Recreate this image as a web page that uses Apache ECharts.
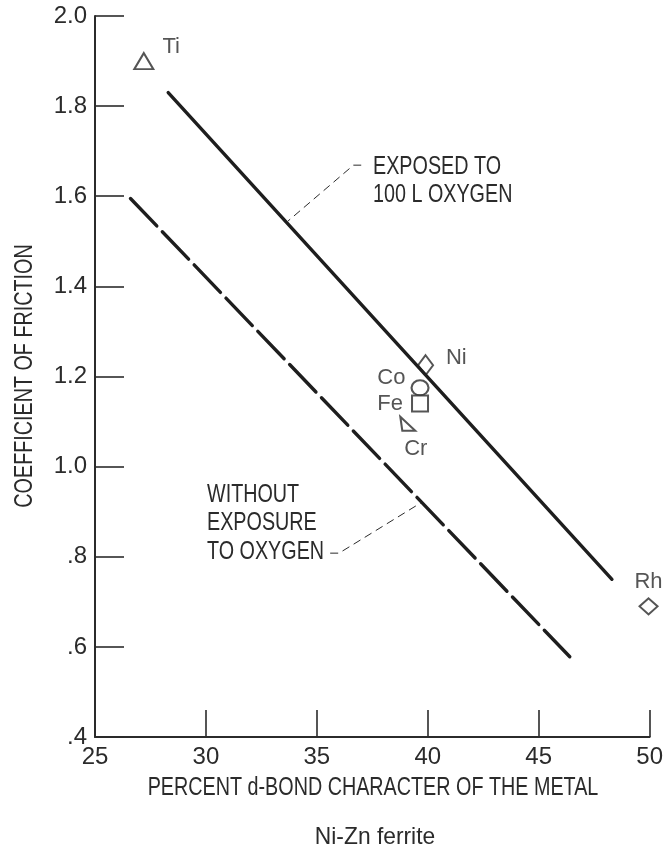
<!DOCTYPE html>
<html>
<head>
<meta charset="utf-8">
<script src="https://cdn.jsdelivr.net/npm/echarts@6/dist/echarts.min.js"></script>
<style>
  html, body { margin: 0; padding: 0; background: #fff; }
  #chart { width: 666px; height: 850px; }
</style>
</head>
<body>
<div id="chart"></div>
<script>
// Coefficient of friction vs. percent d-bond character, Ni-Zn ferrite
const metals   = ['Ti', 'Ni', 'Co', 'Fe', 'Cr', 'Rh'];
const dBond    = [27.2, 39.9, 39.65, 39.65, 39.1, 49.95];
const friction = [1.90, 1.225, 1.175, 1.14, 1.095, 0.69];

// Fitted trend lines (end points)
const exposedX   = [28.3, 48.3];
const exposedY   = [1.83, 0.75];
const unexposedX = [26.6, 46.4];
const unexposedY = [1.595, 0.578];

// Leader lines from the notes to the trend lines
const exposedLeaderX   = [37.0, 36.65, 33.7];
const exposedLeaderY   = [1.669, 1.669, 1.545];
const unexposedLeaderX = [35.6, 36.0, 39.7];
const unexposedLeaderY = [0.808, 0.808, 0.92];

const xTickLabels = ['25', '30', '35', '40', '45', '50'];
const yTickLabels = ['.4', '.6', '.8', '1.0', '1.2', '1.4', '1.6', '1.8', '2.0'];

const INK = '#2b2b2b';
const FONT = '"Liberation Sans", Arial, sans-serif';
const TICK_FS = 24;
const CAPS_FS = 25;     // upper-case notes and titles, drawn condensed
const NARROW = 0.79;

const zip = (xs, ys) => xs.map((x, i) => [x, ys[i]]);

// Marker shape and label placement per metal
const markerStyle = {
  Ti: { symbol: 'triangle', size: [19, 16], label: { position: 'right', distance: 8, offset: [0, -14] } },
  Ni: { symbol: 'diamond',  size: [15, 20], label: { position: 'right', distance: 12, offset: [0, -7] } },
  Co: { symbol: 'circle',   size: [17, 15], label: { position: 'left',  distance: 5, offset: [0, -10] } },
  Fe: { symbol: 'rect',     size: [16, 16], label: { position: 'left',  distance: 8, offset: [0, 0] } },
  Cr: { symbol: 'path://M0,0 L2,14 L15,14 Z', size: [15, 14], label: { position: 'bottom', distance: 6, offset: [8, 0] } },
  Rh: { symbol: 'diamond',  size: [18, 16], label: { position: 'top',   distance: 4, offset: [0, 0] } }
};

const pointData = metals.map((m, i) => {
  const s = markerStyle[m];
  return {
    name: m,
    value: [dBond[i], friction[i]],
    symbol: s.symbol,
    symbolSize: s.size,
    label: Object.assign({
      show: true, formatter: m, color: INK, fontFamily: FONT, fontSize: 22
    }, s.label)
  };
});

// Condensed text helper for notes and axis titles
function capsText(str, x, y, opts) {
  opts = opts || {};
  return {
    type: 'text', x: x, y: y,
    rotation: opts.rotation || 0,
    scaleX: opts.scaleX || NARROW, scaleY: 1,
    silent: true,
    style: {
      text: str, fill: INK,
      font: (opts.fontSize || CAPS_FS) + 'px ' + FONT,
      align: opts.align || 'left', verticalAlign: 'middle'
    }
  };
}

const chart = echarts.init(document.getElementById('chart'), null, { renderer: 'canvas' });

chart.setOption({
  animation: false,
  backgroundColor: '#fff',
  grid: { left: 95, right: 14, top: 16, bottom: 113, containLabel: false },
  xAxis: {
    type: 'value', min: 25, max: 50, interval: 5,
    axisLine: { show: true, lineStyle: { color: INK, width: 2 } },
    axisTick: { show: true, inside: true, length: 27, lineStyle: { color: INK, width: 1.6 } },
    axisLabel: {
      color: INK, fontFamily: FONT, fontSize: TICK_FS, margin: 8,
      formatter: v => xTickLabels[Math.round((v - 25) / 5)]
    },
    splitLine: { show: false }
  },
  yAxis: {
    type: 'value', min: 0.4, max: 2.0, interval: 0.2,
    axisLine: { show: true, lineStyle: { color: INK, width: 2 } },
    axisTick: { show: true, inside: true, length: 29, lineStyle: { color: INK, width: 1.6 } },
    axisLabel: {
      color: INK, fontFamily: FONT, fontSize: TICK_FS, margin: 8,
      formatter: v => yTickLabels[Math.round((v - 0.4) / 0.2)]
    },
    splitLine: { show: false }
  },
  series: [
    {
      name: 'Exposed to 100 L oxygen', type: 'line', data: zip(exposedX, exposedY),
      symbol: 'none', silent: true,
      lineStyle: { color: '#1e1e1e', width: 3.4, cap: 'round' }
    },
    {
      name: 'Without exposure to oxygen', type: 'line', data: zip(unexposedX, unexposedY),
      symbol: 'none', silent: true,
      lineStyle: { color: '#1e1e1e', width: 3.4, type: [38, 8], cap: 'round' }
    },
    {
      name: 'exposed leader', type: 'line', data: zip(exposedLeaderX, exposedLeaderY),
      symbol: 'none', silent: true,
      lineStyle: { color: INK, width: 1, type: [8, 5] }
    },
    {
      name: 'unexposed leader', type: 'line', data: zip(unexposedLeaderX, unexposedLeaderY),
      symbol: 'none', silent: true,
      lineStyle: { color: INK, width: 1, type: [8, 5] }
    },
    {
      name: 'metals', type: 'scatter', data: pointData, clip: false,
      itemStyle: { color: '#fff', borderColor: INK, borderWidth: 2 }
    }
  ],
  graphic: [
    capsText('EXPOSED TO', 373, 167),
    capsText('100 L OXYGEN', 373, 195),
    capsText('WITHOUT', 207, 495),
    capsText('EXPOSURE', 207, 523),
    capsText('TO OXYGEN', 207, 552),
    capsText('PERCENT d-BOND CHARACTER OF THE METAL', 373, 788, { align: 'center' }),
    capsText('COEFFICIENT OF FRICTION', 25, 376, { align: 'center', rotation: Math.PI / 2 }),
    capsText('Ni-Zn ferrite', 375, 837, { align: 'center', fontSize: 24, scaleX: 0.95 })
  ]
});
</script>
</body>
</html>
